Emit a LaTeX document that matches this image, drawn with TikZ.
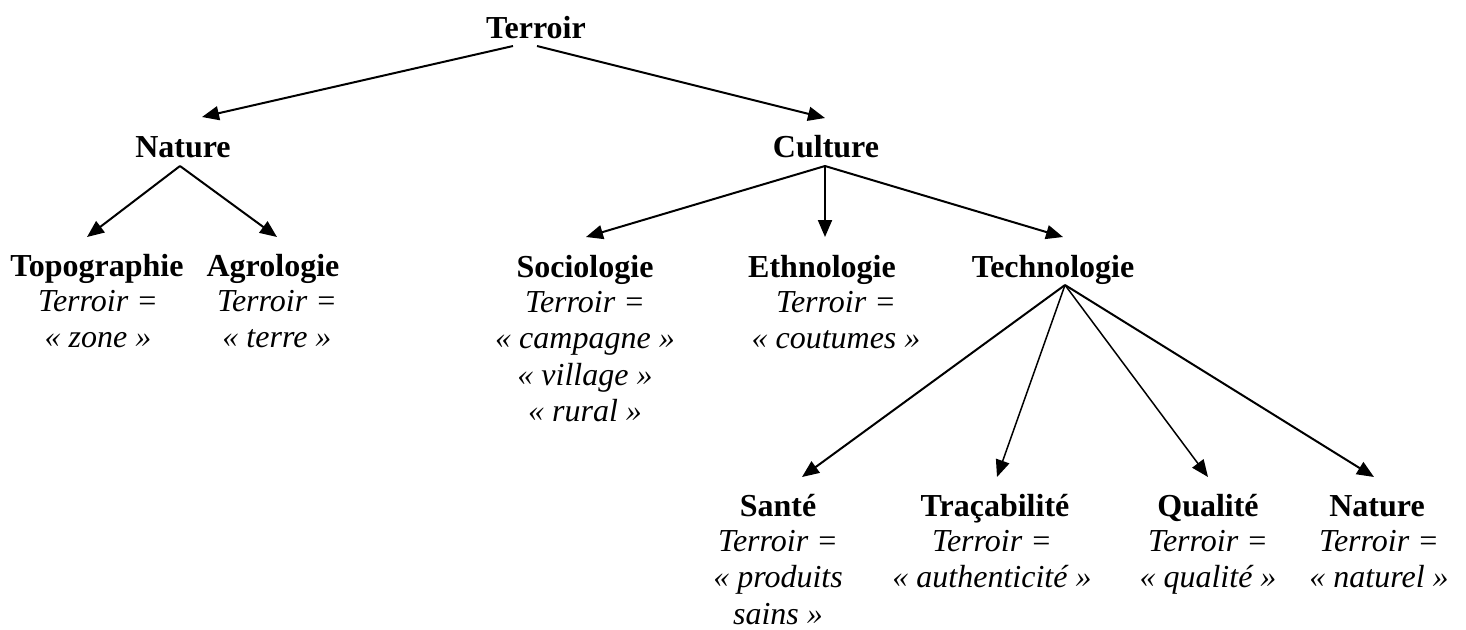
\documentclass[tikz,border=0pt]{standalone}
\usepackage{fontspec}
\setmainfont{Liberation Serif}
\usetikzlibrary{arrows.meta,calc}
\newcommand\txtsize{\fontsize{16}{18.25}\selectfont}
\newcommand\stack[1]{\begin{tabular}[t]{@{}c@{}}#1\end{tabular}}
\tikzset{
  heading/.style={font=\txtsize\bfseries, inner sep=0pt, anchor=base},
  defn/.style={font=\txtsize\itshape, inner sep=0pt, anchor=base},
  arr/.style={line width=1pt, -{Triangle[length=8.5pt,width=7pt]}},
  thinarr/.style={line width=0.75pt, -{Triangle[length=8.5pt,width=7pt]}},
}
\begin{document}
\begin{tikzpicture}[x=0.5pt,y=-0.5pt]
\useasboundingbox (0,0) rectangle (1466,629);

% root
\node[heading] (terroir) at (536,38) {Terroir};

% first level
\node[heading] (nature) at (183,157) {Nature};
\node[heading] (culture) at (826,157) {Culture};

% second level
\node[heading] (topo) at (97,276) {Topographie};
\node[defn] (topo-d) at ($(topo.base)+(1,35)$) {\stack{Terroir =\\« zone »}};
\node[heading] (agro) at (273,276) {Agrologie};
\node[defn] (agro-d) at ($(agro.base)+(4,35)$) {\stack{Terroir =\\« terre »}};
\node[heading] (socio) at (585,277) {Sociologie};
\node[defn] (socio-d) at ($(socio.base)+(0,35)$) {\stack{Terroir =\\« campagne »\\« village »\\« rural »}};
\node[heading] (ethno) at (822,277) {Ethnologie};
\node[defn] (ethno-d) at ($(ethno.base)+(14,35)$) {\stack{Terroir =\\« coutumes »}};
\node[heading] (techno) at (1053,277) {Technologie};

% third level
\node[heading] (sante) at (778,516) {Santé};
\node[defn] (sante-d) at ($(sante.base)+(0,35)$) {\stack{Terroir =\\« produits\\sains »}};
\node[heading] (traca) at (995,516) {Traçabilité};
\node[defn] (traca-d) at ($(traca.base)+(-3,35)$) {\stack{Terroir =\\« authenticité »}};
\node[heading] (qual) at (1208,516) {Qualité};
\node[defn] (qual-d) at ($(qual.base)+(0,35)$) {\stack{Terroir =\\« qualité »}};
\node[heading] (natr) at (1377,516) {Nature};
\node[defn] (natr-d) at ($(natr.base)+(2,35)$) {\stack{Terroir =\\« naturel »}};

% connectors
\draw[arr] ($(terroir.base)+(-23,8)$) -- ($(nature.base)+(19,-40)$);
\draw[arr] ($(terroir.base)+(1,8)$) -- ($(culture.base)+(-1,-39)$);

\draw[arr] ($(nature.base)+(-3,9)$) -- ($(topo.base)+(-10,-39)$);
\draw[arr] ($(nature.base)+(-3,9)$) -- ($(agro.base)+(4,-39)$);

\draw[arr] ($(culture.base)+(-1,9)$) -- ($(socio.base)+(1,-40)$);
\draw[arr] ($(culture.base)+(-1,9)$) -- ($(ethno.base)+(3,-40)$);
\draw[arr] ($(culture.base)+(-1,9)$) -- ($(techno.base)+(10,-40)$);

\draw[arr] ($(techno.base)+(12,8)$) -- ($(sante.base)+(24,-39)$);
\draw[thinarr] ($(techno.base)+(12,8)$) -- ($(traca.base)+(2,-39)$);
\draw[thinarr] ($(techno.base)+(12,8)$) -- ($(qual.base)+(0,-39)$);
\draw[arr] ($(techno.base)+(12,8)$) -- ($(natr.base)+(-3,-39)$);
\end{tikzpicture}
\end{document}
